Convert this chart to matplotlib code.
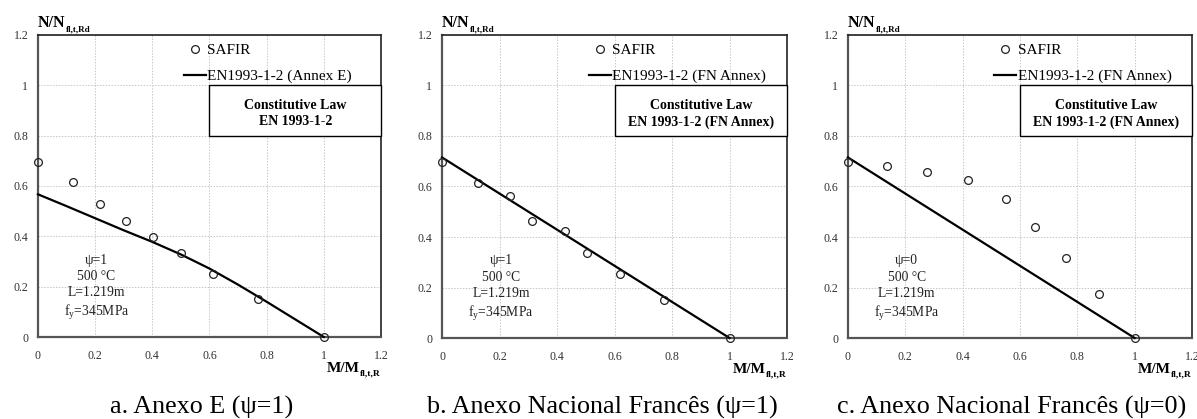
import matplotlib
matplotlib.use("Agg")
import matplotlib.pyplot as plt
from matplotlib.patches import Rectangle

plt.rcParams["font.family"] = ["Liberation Serif", "DejaVu Serif"]
plt.rcParams["mathtext.fontset"] = "custom"
plt.rcParams["mathtext.rm"] = "Liberation Serif"

# --- data ---
safir_a_x = [0.0, 0.124, 0.217, 0.308, 0.401, 0.500, 0.613, 0.771, 1.0]
safir_a_y = [0.697, 0.617, 0.528, 0.461, 0.398, 0.332, 0.252, 0.151, 0.0]
en_a_x = [0.0, 0.1, 0.2, 0.3, 0.4, 0.5, 0.6, 0.7, 0.8, 0.9, 1.0]
en_a_y = [0.567, 0.520, 0.472, 0.424, 0.378, 0.328, 0.272, 0.208, 0.140, 0.070, 0.0]

safir_b_x = [0.0, 0.124, 0.237, 0.314, 0.428, 0.505, 0.619, 0.773, 1.0]
safir_b_y = [0.698, 0.613, 0.562, 0.465, 0.424, 0.335, 0.252, 0.150, 0.0]
en_b_x = [0.0, 1.0]
en_b_y = [0.715, 0.0]

safir_c_x = [0.0, 0.137, 0.275, 0.420, 0.550, 0.654, 0.760, 0.877, 1.0]
safir_c_y = [0.698, 0.681, 0.659, 0.626, 0.550, 0.441, 0.318, 0.174, 0.0]
en_c_x = [0.0, 1.0]
en_c_y = [0.715, 0.0]

ticks = [0, 0.2, 0.4, 0.6, 0.8, 1.0, 1.2]
tick_labels = ["0", "0.2", "0.4", "0.6", "0.8", "1", "1.2"]

panels = [
    dict(sx=safir_a_x, sy=safir_a_y, lx=en_a_x, ly=en_a_y,
         leg="EN1993-1-2 (Annex E)", box="Constitutive Law\nEN 1993-1-2",
         psi="1", caption="a. Anexo E (\u03c8=1)", pos=[0.0317, 0.1957, 0.2866, 0.7208], cx=0.1685),
    dict(sx=safir_b_x, sy=safir_b_y, lx=en_b_x, ly=en_b_y,
         leg="EN1993-1-2 (FN Annex)", box="Constitutive Law\nEN 1993-1-2 (FN Annex)",
         psi="1", caption="b. Anexo Nacional Franc\u00eas (\u03c8=1)", pos=[0.3693, 0.1933, 0.2882, 0.7232], cx=0.503),
    dict(sx=safir_c_x, sy=safir_c_y, lx=en_c_x, ly=en_c_y,
         leg="EN1993-1-2 (FN Annex)", box="Constitutive Law\nEN 1993-1-2 (FN Annex)",
         psi="0", caption="c. Anexo Nacional Franc\u00eas (\u03c8=0)", pos=[0.7084, 0.1933, 0.2874, 0.7232], cx=0.8455),
]

fig = plt.figure(figsize=(11.97, 4.19), dpi=100)

for p in panels:
    ax = fig.add_axes(p["pos"])
    ax.set_xlim(0, 1.2)
    ax.set_ylim(0, 1.2)
    ax.set_xticks(ticks)
    ax.set_yticks(ticks)
    ax.set_xticklabels(tick_labels)
    ax.set_yticklabels(tick_labels)
    ax.tick_params(length=0, labelsize=8.6, colors="#333333", pad=7)
    ax.tick_params(axis="x", pad=9)
    ax.grid(True, color="#c8c8c8", linestyle=(0, (1.5, 1.5)), linewidth=0.7)
    ax.set_axisbelow(True)
    for side in ["top", "right"]:
        ax.spines[side].set_linewidth(1.2)
        ax.spines[side].set_color("#222222")
    for side in ["left", "bottom"]:
        ax.spines[side].set_linewidth(1.6)
        ax.spines[side].set_color("#555555")

    ax.plot(p["lx"], p["ly"], color="black", linewidth=1.6,
            label=p["leg"], zorder=3, clip_on=False)
    ax.plot(p["sx"], p["sy"], linestyle="none", marker="o", markersize=5.6,
            markerfacecolor="none", markeredgecolor="#222222", markeredgewidth=0.9,
            label="SAFIR", zorder=4, clip_on=False)

    h, l = ax.get_legend_handles_labels()
    ax.legend(h[::-1], l[::-1], loc="upper left", bbox_to_anchor=(0.425, 0.972),
              frameon=False, fontsize=11, handlelength=1.45, handletextpad=0.1,
              labelspacing=0.8, borderpad=0, borderaxespad=0)

    ax.add_patch(Rectangle((0.6, 0.8), 0.6, 0.2, facecolor="white",
                           edgecolor="black", linewidth=1.0, zorder=5, clip_on=False))
    ax.text(0.9, 0.888, p["box"], ha="center", va="center", fontsize=10,
            fontweight="bold", linespacing=1.3, zorder=6)

    ax.text(0.205, 0.195,
            "\u03c8=" + p["psi"] + "\n500 \u00b0C\nL=1.219m\nf$_\\mathrm{y}$=345MPa",
            ha="center", va="center", fontsize=9.8, linespacing=1.32, color="#222222")

    t = ax.text(0.0, 1.012, "N/N", transform=ax.transAxes, ha="left", va="bottom",
                fontsize=11.5, fontweight="bold")
    ax.annotate("fl,t,Rd", xy=(1, 0), xycoords=t, xytext=(0, -1.5),
                textcoords="offset points", ha="left", va="bottom",
                fontsize=6.5, fontweight="bold")

    t2 = ax.text(0.938, -0.105, "M/M", transform=ax.transAxes, ha="right",
                 va="center", fontsize=11, fontweight="bold")
    ax.annotate("fl,t,R", xy=(1, 0), xycoords=t2, xytext=(0, -1.5),
                textcoords="offset points", ha="left", va="bottom",
                fontsize=6.8, fontweight="bold")

    fig.text(p["cx"], 0.014, p["caption"], ha="center", va="baseline", fontsize=18.8)

fig.savefig("out.png", dpi=100)
